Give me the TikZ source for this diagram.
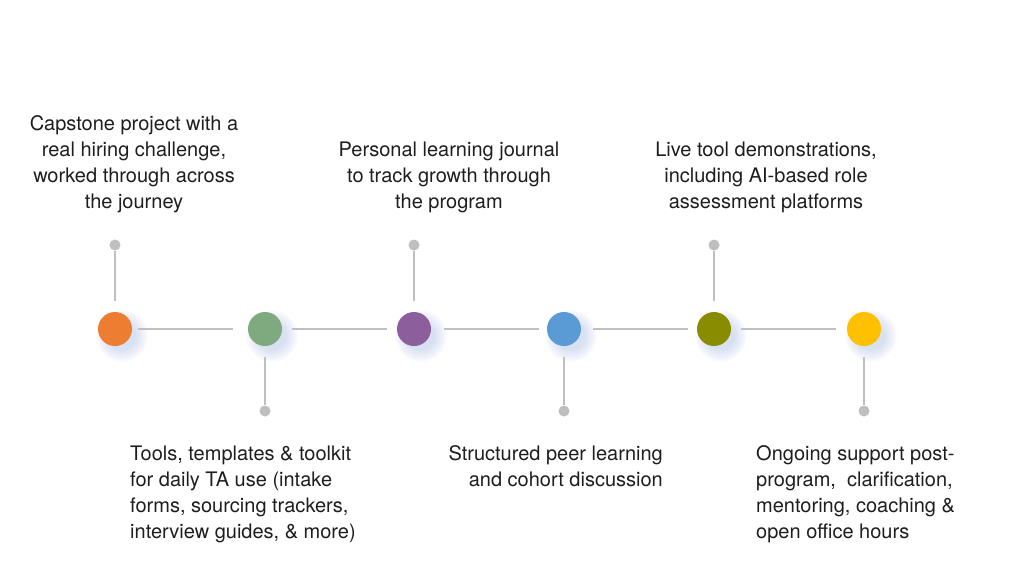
\documentclass[tikz,border=0pt]{standalone}
\usepackage{fontspec}
\setmainfont{TeX Gyre Heros}
\definecolor{cOrange}{HTML}{ED7D31}
\definecolor{cGreen}{HTML}{7FA97F}
\definecolor{cPurple}{HTML}{8C5E9C}
\definecolor{cBlue}{HTML}{5B9BD5}
\definecolor{cOlive}{HTML}{8A8C00}
\definecolor{cYellow}{HTML}{FFC000}
\definecolor{cGray}{HTML}{BFBFBF}
\definecolor{cGlow}{HTML}{7F9FE8}
\definecolor{cText}{HTML}{1E1E1E}
\begin{document}
\begin{tikzpicture}[x=1pt,y=-1pt,
  milestone/.style={circle,inner sep=0pt,minimum size=34pt},
  dot/.style={circle,fill=cGray,inner sep=0pt,minimum size=11pt},
  link/.style={draw=cGray,line width=2pt},
  label/.style={font=\fontsize{20}{26}\selectfont,text=cText,inner sep=0pt}]
\useasboundingbox (0,0) rectangle (1024,587);
\fill[white] (0,0) rectangle (1024,587);
% soft glow under the milestones
\foreach \x in {115,265,414,564,714,864}
  \foreach \r in {14,...,26}
    \fill[cGlow,opacity=0.022] (\x+7,336) circle (\r);
\node[milestone,fill=cOrange] (c1) at (115,329) {};
\node[milestone,fill=cGreen] (c2) at (265,329) {};
\node[milestone,fill=cPurple] (c3) at (414,329) {};
\node[milestone,fill=cBlue] (c4) at (564,329) {};
\node[milestone,fill=cOlive] (c5) at (714,329) {};
\node[milestone,fill=cYellow] (c6) at (864,329) {};
\node[dot] (d1) at (115,245) {};
\node[dot] (d2) at (265,411) {};
\node[dot] (d3) at (414,245) {};
\node[dot] (d4) at (564,411) {};
\node[dot] (d5) at (714,245) {};
\node[dot] (d6) at (864,411) {};
\foreach \i in {1,...,6}
  \draw[link,shorten <=11pt] (c\i) -- (d\i);
\foreach \a/\b/\s/\e in {c1/c2/6/15,c2/c3/10/10,c3/c4/13/8,c4/c5/12/9,c5/c6/10/11}
  \draw[link,shorten <=\s pt,shorten >=\e pt] (\a) -- (\b);
% texts (base = last line)
\node[label,align=center,anchor=base] (t1) at (134,208) {Capstone project with a\\real hiring challenge,\\worked through across\\the journey};
\node[label,align=center,anchor=base] (t3) at (449,208) {Personal learning journal\\to track growth through\\the program};
\node[label,align=center,anchor=base] (t5) at (766,208) {Live tool demonstrations,\\including AI-based role\\assessment platforms};
\node[label,align=left,anchor=base west] (t2) at (130,538) {Tools, templates \& toolkit\\for daily TA use (intake\\forms, sourcing trackers,\\interview guides, \& more)};
\node[label,align=right,anchor=base east] (t4) at (663,486) {Structured peer learning\\and cohort discussion};
\node[label,align=left,anchor=base west] (t6) at (756,538) {Ongoing support post-\\program,~ clarification,\\mentoring, coaching \&\\open office hours};
\end{tikzpicture}
\end{document}
